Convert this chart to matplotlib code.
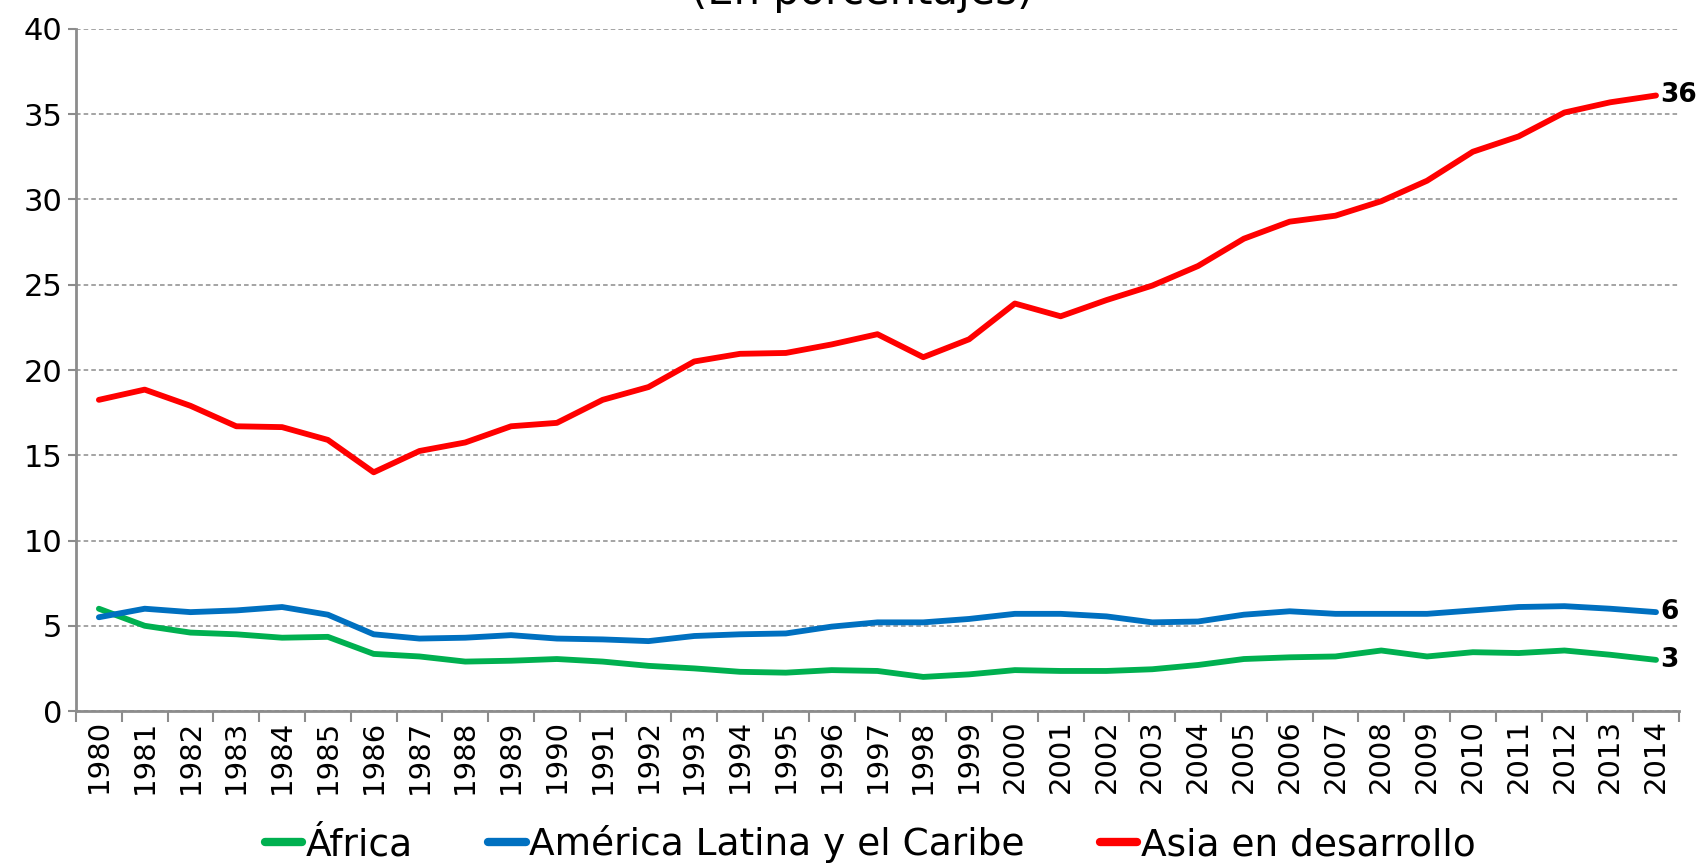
import matplotlib
matplotlib.use("Agg")
import matplotlib.pyplot as plt

years = list(range(1980, 2015))

africa = [6.0, 5.0, 4.6, 4.5, 4.3, 4.35, 3.35, 3.2, 2.9, 2.95, 3.05, 2.9, 2.65, 2.5, 2.3,
          2.25, 2.4, 2.35, 2.0, 2.15, 2.4, 2.35, 2.35, 2.45, 2.7, 3.05, 3.15, 3.2, 3.55, 3.2,
          3.45, 3.4, 3.55, 3.3, 3.0]
america = [5.5, 6.0, 5.8, 5.9, 6.1, 5.65, 4.5, 4.25, 4.3, 4.45, 4.25, 4.2, 4.1, 4.4, 4.5,
           4.55, 4.95, 5.2, 5.2, 5.4, 5.7, 5.7, 5.55, 5.2, 5.25, 5.65, 5.85, 5.7, 5.7, 5.7,
           5.9, 6.1, 6.15, 6.0, 5.8]
asia = [18.25, 18.85, 17.9, 16.7, 16.65, 15.9, 14.0, 15.25, 15.75, 16.7, 16.9, 18.25, 19.0,
        20.5, 20.95, 21.0, 21.5, 22.1, 20.75, 21.8, 23.9, 23.15, 24.1, 24.95, 26.1, 27.7,
        28.7, 29.05, 29.9, 31.1, 32.8, 33.7, 35.1, 35.7, 36.1]

series = [
    ("África", africa, "#00B050", "3"),
    ("América Latina y el Caribe", america, "#0070C0", "6"),
    ("Asia en desarrollo", asia, "#FF0000", "36"),
]

plt.rcParams['font.family'] = ['DejaVu Sans']

fig = plt.figure(figsize=(17, 8.65), dpi=100)
ax = fig.add_axes([0.0447, 0.178, 0.9429, 0.7885])

x = list(range(len(years)))
for name, vals, col, lab in series:
    ax.plot(x, vals, color=col, lw=4.2, label=name, solid_capstyle='round')
    ax.annotate(lab, (x[-1], vals[-1]), xytext=(3, 0), textcoords='offset points',
                ha='left', va='center', fontsize=19, fontweight='bold')

ax.set_xlim(-0.5, len(years) - 0.5)
ax.set_ylim(0, 40)
ax.set_yticks(range(0, 41, 5))
ax.yaxis.grid(True, color='#8c8c8c', ls=(0, (3, 2)), lw=1.1)
ax.set_axisbelow(True)

# ticks between the years, labels centred on them
ax.set_xticks([i - 0.5 for i in range(len(years) + 1)])
ax.set_xticklabels([])
ax.set_xticks(x, minor=True)
ax.set_xticklabels([str(y) for y in years], minor=True, rotation=90, fontsize=21)
ax.tick_params(axis='x', which='major', length=8, color='#8c8c8c', width=1.5)
ax.tick_params(axis='x', which='minor', length=0, pad=6)
ax.tick_params(axis='y', length=6, color='#8c8c8c', width=1.5, labelsize=22, pad=4)

for s in ['top', 'right']:
    ax.spines[s].set_visible(False)
for s in ['left', 'bottom']:
    ax.spines[s].set_color('#8c8c8c')
    ax.spines[s].set_linewidth(2)

fig.text(0.507, 0.995, "(En porcentajes)", ha='center', va='baseline', fontsize=30)

leg = fig.legend(loc='center', bbox_to_anchor=(0.512, 0.024), ncol=3, frameon=False,
                 fontsize=27, handlelength=1.0, handletextpad=0.1, columnspacing=2.0)
for h in leg.legend_handles:
    h.set_linewidth(6)

fig.savefig("out.png", dpi=100)
